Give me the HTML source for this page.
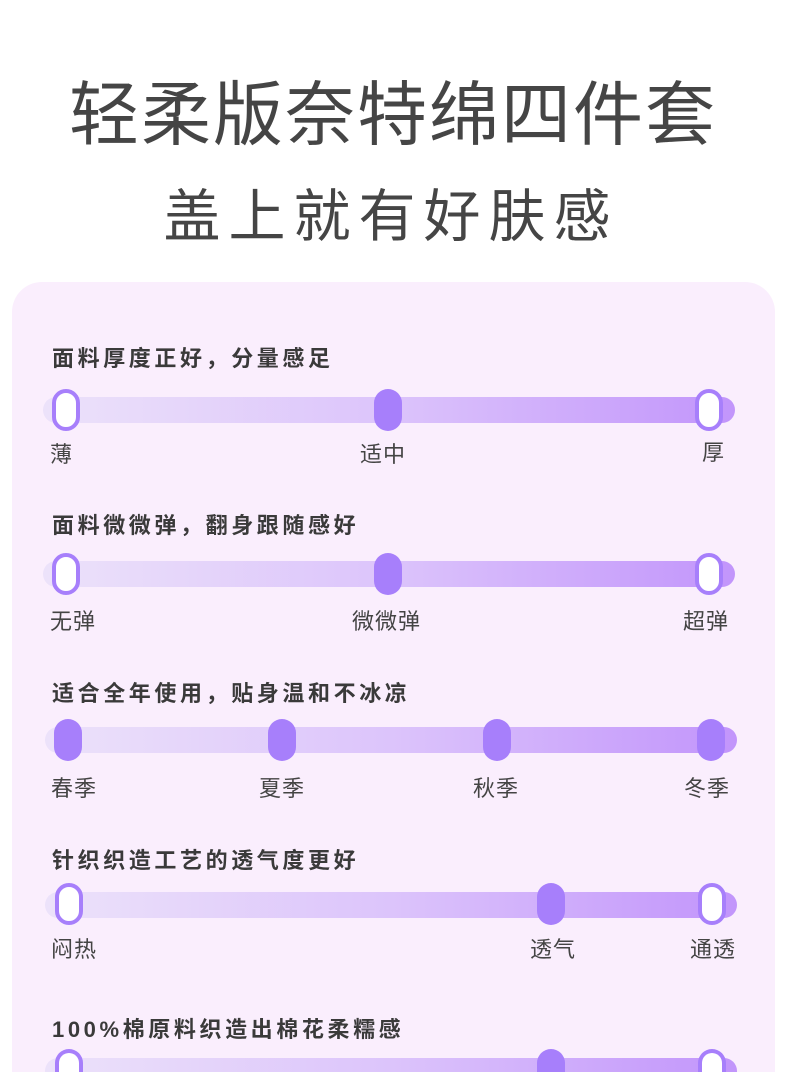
<!DOCTYPE html>
<html><head><meta charset="utf-8"><style>
*{margin:0;padding:0;box-sizing:border-box}
html,body{width:790px;height:1072px;overflow:hidden}
body{background:#fff;position:relative;font-family:"Liberation Sans","Noto Sans CJK SC",sans-serif;color:#444}
.h1{position:absolute;top:59px;left:0;width:790px;text-align:center;font-size:70px;letter-spacing:2px;color:#454545;padding-right:4px}
.h2{position:absolute;top:171px;left:0;width:790px;text-align:center;font-size:57px;letter-spacing:8px;color:#454545;padding-right:8px}
.card{position:absolute;left:12px;top:282px;width:763px;height:790px;border-radius:30px 30px 0 0;background:#faeefd}
.t{position:absolute;left:52px;font-size:22px;font-weight:bold;letter-spacing:3.6px;color:#3a3a3a}
.tr{position:absolute;height:26px;border-radius:13px;background:linear-gradient(90deg,#ece2fa,#dcc4fb 50%,#c295fb)}
.k{position:absolute;width:28px;height:42px;border-radius:14px;background:#a77ffb}
.k.o{background:#fff;border:4px solid #a77ffb}
.l{position:absolute;font-size:22px;color:#444;letter-spacing:1px}
.clip{position:absolute;left:0;top:0;width:790px;height:1072px;overflow:hidden}
</style></head><body><div class="clip">
<div class="h1">轻柔版奈特绵四件套</div>
<div class="h2">盖上就有好肤感</div>
<div class="card"></div>

<div class="t" style="top:341px">面料厚度正好，分量感足</div>
<div class="tr" style="left:43px;width:692px;top:397px"></div>
<div class="k o" style="left:52px;top:389px"></div>
<div class="k" style="left:374px;top:389px"></div>
<div class="k o" style="left:695px;top:389px"></div>
<div class="l" style="left:50px;top:437px">薄</div>
<div class="l" style="left:360px;top:437px">适中</div>
<div class="l" style="left:702px;top:435px">厚</div>

<div class="t" style="top:508px">面料微微弹，翻身跟随感好</div>
<div class="tr" style="left:43px;width:692px;top:561px"></div>
<div class="k o" style="left:52px;top:553px"></div>
<div class="k" style="left:374px;top:553px"></div>
<div class="k o" style="left:695px;top:553px"></div>
<div class="l" style="left:50px;top:604px">无弹</div>
<div class="l" style="left:352px;top:604px">微微弹</div>
<div class="l" style="left:683px;top:604px">超弹</div>

<div class="t" style="top:676px">适合全年使用，贴身温和不冰凉</div>
<div class="tr" style="left:45px;width:692px;top:727px"></div>
<div class="k" style="left:54px;top:719px"></div>
<div class="k" style="left:268px;top:719px"></div>
<div class="k" style="left:483px;top:719px"></div>
<div class="k" style="left:697px;top:719px"></div>
<div class="l" style="left:51px;top:771px">春季</div>
<div class="l" style="left:259px;top:771px">夏季</div>
<div class="l" style="left:473px;top:771px">秋季</div>
<div class="l" style="left:684px;top:771px">冬季</div>

<div class="t" style="top:843px">针织织造工艺的透气度更好</div>
<div class="tr" style="left:45px;width:692px;top:892px"></div>
<div class="k o" style="left:55px;top:883px"></div>
<div class="k" style="left:537px;top:883px"></div>
<div class="k o" style="left:698px;top:883px"></div>
<div class="l" style="left:51px;top:932px">闷热</div>
<div class="l" style="left:530px;top:932px">透气</div>
<div class="l" style="left:690px;top:932px">通透</div>

<div class="t" style="top:1012px">100%棉原料织造出棉花柔糯感</div>
<div class="tr" style="left:45px;width:692px;top:1058px;height:14px;border-radius:13px 13px 0 0"></div>
<div class="k o" style="left:55px;top:1049px;height:23px;border-bottom:0;border-radius:14px 14px 0 0"></div>
<div class="k" style="left:537px;top:1049px;height:23px;border-radius:14px 14px 0 0"></div>
<div class="k o" style="left:698px;top:1049px;height:23px;border-bottom:0;border-radius:14px 14px 0 0"></div>
</div></body></html>
